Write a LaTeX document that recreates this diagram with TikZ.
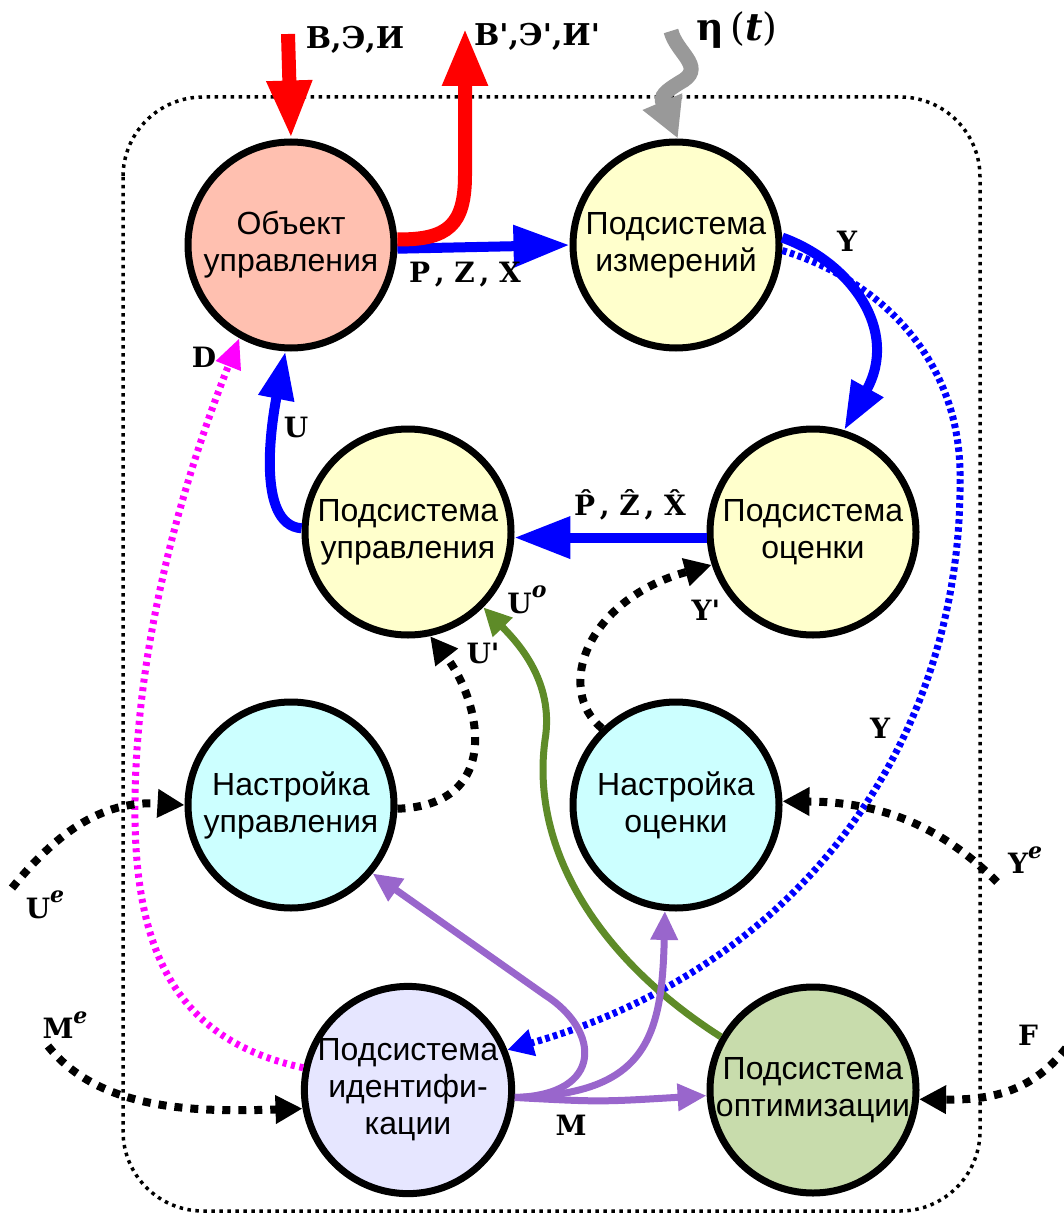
\documentclass[tikz,border=0pt]{standalone}
\usepackage{fontspec}
\setmainfont{Liberation Sans}
\newfontfamily\lblfont{DejaVu Serif}
\usetikzlibrary{arrows.meta}
\definecolor{objfill}{RGB}{255,192,176}
\definecolor{yelfill}{RGB}{255,255,204}
\definecolor{cyanfill}{RGB}{204,255,255}
\definecolor{idffill}{RGB}{230,230,255}
\definecolor{optfill}{RGB}{200,220,172}
\definecolor{myred}{RGB}{255,0,0}
\definecolor{myblue}{RGB}{0,0,255}
\definecolor{mymag}{RGB}{255,0,255}
\definecolor{mygray}{RGB}{153,153,153}
\definecolor{mypurple}{RGB}{153,102,204}
\definecolor{mygreen}{RGB}{94,139,40}
\newcommand\supit[1]{\raisebox{0.55em}{\fontsize{22}{22}\selectfont\itshape #1}}
\tikzset{
  unit/.style={circle, draw=black, line width=7pt, minimum size=206pt, inner sep=0pt,
    align=center, font=\fontsize{32}{37}\selectfont},
  lbl/.style={font=\lblfont\bfseries\fontsize{28}{32}\selectfont, inner sep=0pt},
  toplbl/.style={font=\lblfont\bfseries\fontsize{30}{34}\selectfont, inner sep=0pt},
  redline/.style={draw=myred, line width=14pt, -{Triangle[length=58pt,width=42pt]}},
  blueline/.style={draw=myblue, line width=10pt, -{Triangle[length=56pt,width=40pt]}},
  bluecurve/.style={draw=myblue, line width=10pt, -{Triangle[length=48pt,width=34pt]}},
  blackdot/.style={draw=black, line width=8pt, dash pattern=on 8pt off 8pt, -{Triangle[length=27pt,width=27pt]}},
  magdot/.style={draw=mymag, line width=7pt, dash pattern=on 4pt off 4.5pt, -{Triangle[length=30pt,width=25pt]}},
  bluedot/.style={draw=myblue, line width=7pt, dash pattern=on 4.5pt off 3.5pt, -{Triangle[length=26pt,width=26pt]}},
  purpline/.style={draw=mypurple, line width=7pt, -{Triangle[length=29pt,width=26pt]}},
  greenline/.style={draw=mygreen, line width=7pt, -{Triangle[length=28pt,width=26pt]}},
  grayline/.style={draw=mygray, line width=15pt, -{Triangle[length=40pt,width=40pt]}}
}
\begin{document}
\begin{tikzpicture}[x=1pt,y=-1pt]
\useasboundingbox (0,0) rectangle (1063,1214);
\fill[white] (0,0) rectangle (1063,1214);
% enclosing dotted box
\draw[line width=3.5pt, dash pattern=on 3.5pt off 4.5pt, rounded corners=80pt] (123,97) rectangle (980,1211);

% nodes
\node[unit, fill=objfill] (obj) at (291,245) {Объект\\управления};
\node[unit, fill=yelfill] (meas) at (676,245) {Подсистема\\измерений};
\node[unit, fill=yelfill] (ctl) at (408,532) {Подсистема\\управления};
\node[unit, fill=yelfill] (est) at (813,532) {Подсистема\\оценки};
\node[unit, fill=cyanfill] (nu) at (291,805) {Настройка\\управления};
\node[unit, fill=cyanfill] (no) at (676,805) {Настройка\\оценки};
\node[unit, fill=idffill] (idf) at (408,1090) {Подсистема\\идентифи-\\кации};
\node[unit, fill=optfill] (opt) at (813,1090) {Подсистема\\оптимизации};

% free ends
\coordinate (inTop) at (288,34);
\coordinate (outTop) at (465,28);
\coordinate (etaStart) at (671,31);
\coordinate (ueStart) at (12,888);
\coordinate (meStart) at (48,1046);
\coordinate (yeStart) at (997,882);
\coordinate (fStart) at (1066,1048);

% red flows
\draw[redline] (inTop) -- (obj.north);
\draw[blueline] (obj.-2) -- (meas.180);
\draw[redline] (obj.3) .. controls (448,240) and (465,225) .. (465,175) -- (outTop);

% gray noise
\draw[grayline] (etaStart) .. controls (676,52) and (704,66) .. (684,80) .. controls (664,92) and (660,96) .. (meas.89);

% blue flows
\draw[bluedot] (meas.-3) .. controls (880,280) and (962,360) .. (960,480) .. controls (962,720) and (820,960) .. (idf.22);
\draw[bluecurve] (meas.4) .. controls (850,262) and (900,330) .. (est.73);
\draw[blueline] (est.183) -- (ctl.-3);
\draw[bluecurve] (ctl.178) .. controls (255,525) and (272,420) .. (obj.-93);

% magenta
\draw[magdot] (idf.168) .. controls (175,1040) and (133,950) .. (135,800) .. controls (137,620) and (195,450) .. (obj.-119);

% black dotted
\draw[blackdot] (nu.-2) .. controls (505,805) and (480,700) .. (ctl.-78);
\draw[blackdot] (no.134) .. controls (555,690) and (585,600) .. (est.198);
\draw[blackdot] (ueStart) .. controls (55,835) and (100,800) .. (nu.180);
\draw[blackdot] (meStart) .. controls (100,1112) and (200,1112) .. (idf.190);
\draw[blackdot] (yeStart) .. controls (940,825) and (880,802) .. (no.2);
\draw[blackdot] (fStart) .. controls (1030,1095) and (985,1100) .. (opt.-5);

% green
\draw[greenline] (opt.150) .. controls (600,960) and (530,850) .. (545,740) .. controls (555,680) and (515,640) .. (ctl.-45);

% purple
\draw[purpline] (idf.-4) .. controls (600,1102) .. (opt.183);
\draw[purpline] (idf.-4) .. controls (645,1095) and (662,1040) .. (no.-96);
\draw[purpline] (idf.-4) .. controls (605,1095) and (600,1030) .. (545,995) -- (nu.-40);

% labels
\node[toplbl] (lBEI) at (355,40) {В,Э,И};
\node[toplbl] (lBEI2) at (537,37) {В\textquotesingle,Э\textquotesingle,И\textquotesingle};
\node[font=\lblfont\fontsize{38}{40}\selectfont, inner sep=0pt] (leta) at (737,30) {{\bfseries η}\,(\textbf{\textit{t}})};
\node[lbl] (lPZX) at (465,275) {P\,, Z\,, X};
\node[lbl] (lY1) at (847,241) {Y};
\node[lbl] (lPZXh) at (630,505) {\^{P}\,, \^{Z}\,, \^{X}};
\node[lbl] (lU) at (296,427) {U};
\node[lbl] (lD) at (204,357) {D};
\node[lbl] (lUo) at (527,600) {U\supit{o}};
\node[lbl] (lUp) at (483,653) {U\textquotesingle};
\node[lbl] (lYp) at (706,610) {Y\textquotesingle};
\node[lbl] (lY2) at (880,728) {Y};
\node[lbl] (lUe) at (45,905) {U\supit{e}};
\node[lbl] (lMe) at (65,1025) {M\supit{e}};
\node[lbl] (lYe) at (1025,860) {Y\supit{e}};
\node[lbl] (lF) at (1028,1035) {F};
\node[lbl] (lM) at (571,1125) {M};
\end{tikzpicture}
\end{document}
